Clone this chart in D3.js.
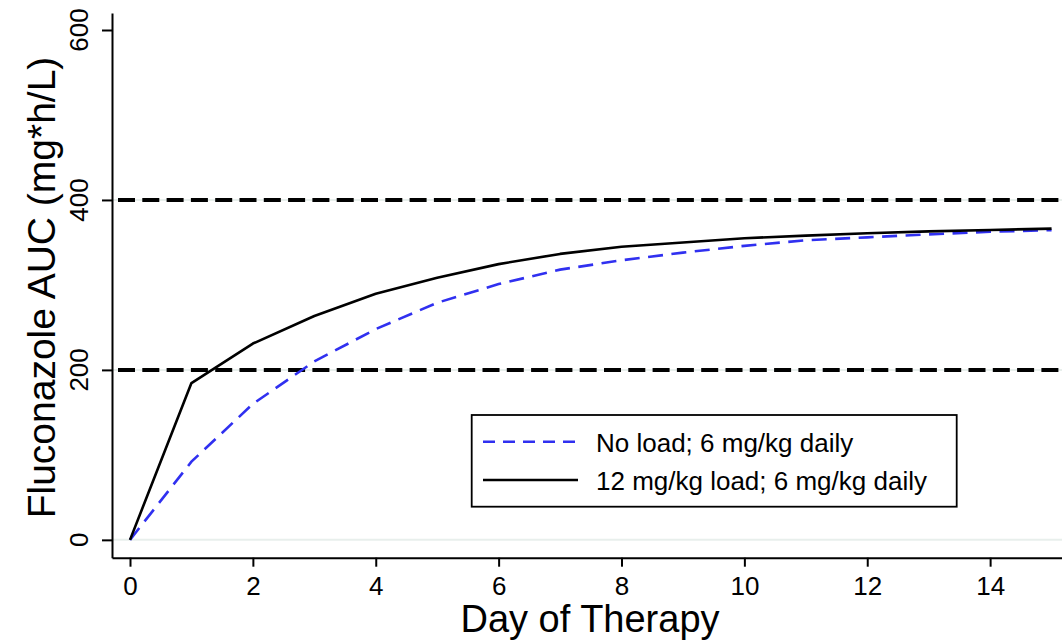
<!DOCTYPE html>
<html>
<head>
<meta charset="utf-8">
<script src="https://cdn.jsdelivr.net/npm/d3@7"></script>
<style>
  body { margin: 0; background: #fff; }
  svg { display: block; font-family: "Liberation Sans", Arial, sans-serif; }
</style>
</head>
<body>
<svg id="chart"></svg>
<script>
// Datos: dias de terapia y AUC de fluconazol
var days = [0, 1, 2, 3, 4, 5, 6, 7, 8, 9, 10, 11, 12, 13, 14, 15];
var noLoad = [0, 92, 160, 210, 248, 279, 301, 318, 329, 338, 346, 352.5, 356, 359.5, 362.5, 364.5];
var withLoad = [0, 184.5, 231, 263.5, 289.5, 308.5, 324.5, 336.5, 345, 350, 355, 358, 360.8, 363, 364.7, 366.3];
var targetLines = [200, 400];
var gridValues = [0, 200, 400];
var xTicks = [0, 2, 4, 6, 8, 10, 12, 14];
var yTicks = [0, 200, 400, 600];
var seriesNames = ["No load; 6 mg/kg daily", "12 mg/kg load; 6 mg/kg daily"];

var width = 1062, height = 640;
var svg = d3.select("#chart")
    .attr("width", width)
    .attr("height", height);

// Escalas (el dominio se extiende un poco fuera de los datos, como en Stata)
var xScale = d3.scaleLinear().domain([-0.293, 15.17]).range([112, 1062]);
var yScale = d3.scaleLinear().domain([-21, 620]).range([557.7, 13]);

// Lineas de cuadricula
svg.selectAll(".grid")
    .data(gridValues)
    .enter().append("line")
    .attr("class", "grid")
    .attr("x1", xScale.range()[0])
    .attr("x2", xScale.range()[1])
    .attr("y1", function(d) { return yScale(d); })
    .attr("y2", function(d) { return yScale(d); })
    .style("stroke", "#e8efec")
    .style("stroke-width", 2);

// Lineas objetivo discontinuas
svg.selectAll(".target")
    .data(targetLines)
    .enter().append("line")
    .attr("class", "target")
    .attr("x1", xScale.range()[0])
    .attr("x2", xScale.range()[1])
    .attr("y1", function(d) { return yScale(d); })
    .attr("y2", function(d) { return yScale(d); })
    .style("stroke", "#000")
    .style("stroke-width", 4)
    .style("stroke-dasharray", "17,7.3")
    .attr("stroke-dashoffset", -6);

// Ejes
var xAxis = d3.axisBottom(xScale).tickValues(xTicks).tickSize(9).tickSizeOuter(0).tickFormat(d3.format("d"));
var yAxis = d3.axisLeft(yScale).tickValues(yTicks).tickSize(10).tickSizeOuter(0).tickFormat("");

var gx = svg.append("g")
    .attr("transform", "translate(0," + yScale.range()[0] + ")")
    .call(xAxis);
gx.select(".domain").style("stroke-width", 2);
gx.selectAll(".tick line").style("stroke-width", 2);
gx.selectAll(".tick text")
    .attr("y", 0)
    .attr("dy", 0)
    .attr("transform", "translate(0,37.5)")
    .style("font-size", "26px")
    .style("font-family", "Liberation Sans, Arial, sans-serif")
    .style("fill", "#000");

var gy = svg.append("g")
    .attr("transform", "translate(" + xScale.range()[0] + ",0)")
    .call(yAxis);
gy.select(".domain").style("stroke-width", 2);
gy.selectAll(".tick line").style("stroke-width", 2);

// Etiquetas del eje y giradas
svg.selectAll(".ylab")
    .data(yTicks)
    .enter().append("text")
    .attr("class", "ylab")
    .attr("text-anchor", "middle")
    .attr("transform", function(d) { return "translate(88," + yScale(d) + ") rotate(-90)"; })
    .style("font-size", "26px")
    .text(function(d) { return d; });

// Curvas
var line = d3.line()
    .x(function(d, i) { return xScale(days[i]); })
    .y(function(d) { return yScale(d); });

svg.append("path")
    .datum(noLoad)
    .attr("d", line)
    .style("fill", "none")
    .style("stroke", "#3030f0")
    .style("stroke-width", 2.6)
    .style("stroke-dasharray", "15,8.5");

svg.append("path")
    .datum(withLoad)
    .attr("d", line)
    .style("fill", "none")
    .style("stroke", "#000")
    .style("stroke-width", 2.6)
    .style("stroke-linejoin", "round");

// Titulos de los ejes
svg.append("text")
    .attr("text-anchor", "middle")
    .attr("x", 590)
    .attr("y", 632)
    .style("font-size", "38px")
    .text("Day of Therapy");

svg.append("text")
    .attr("text-anchor", "middle")
    .attr("transform", "translate(55,287.5) rotate(-90)")
    .style("font-size", "39px")
    .text("Fluconazole AUC (mg*h/L)");

// Leyenda
var legend = svg.append("g");
legend.append("rect")
    .attr("x", 471.7)
    .attr("y", 415)
    .attr("width", 485)
    .attr("height", 91.7)
    .style("fill", "#fff")
    .style("stroke", "#000")
    .style("stroke-width", 1.8);

var legendStyles = [
  { color: "#3030f0", dash: "12,8", y: 441.7 },
  { color: "#000", dash: null, y: 480 }
];

seriesNames.forEach(function(name, i) {
  legend.append("line")
      .attr("x1", 483)
      .attr("x2", 578)
      .attr("y1", legendStyles[i].y)
      .attr("y2", legendStyles[i].y)
      .style("stroke", legendStyles[i].color)
      .style("stroke-width", 2.6)
      .style("stroke-dasharray", legendStyles[i].dash);
  legend.append("text")
      .attr("x", 596)
      .attr("y", legendStyles[i].y + 10)
      .style("font-size", "26px")
      .text(name);
});
</script>
</body>
</html>
